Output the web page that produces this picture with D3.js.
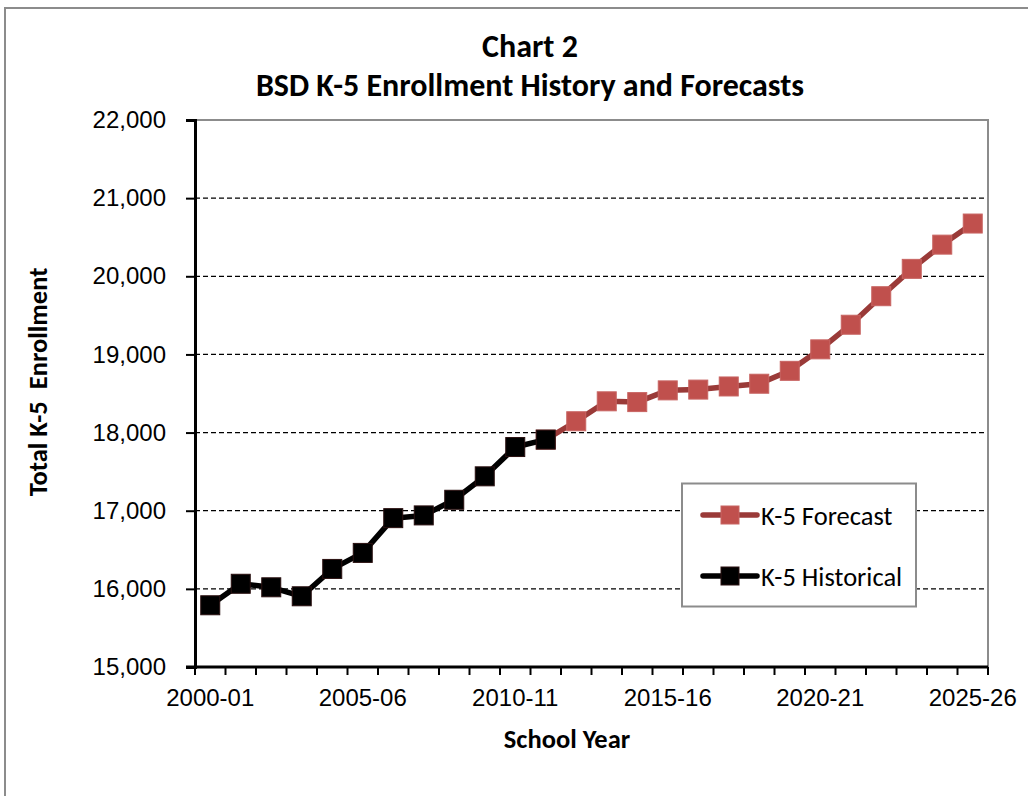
<!DOCTYPE html>
<html>
<head>
<meta charset="utf-8">
<script src="https://cdn.jsdelivr.net/npm/d3@7"></script>
<style>
	body { margin: 0; background: #fff; }
	svg { display: block; }
	.tick-label { font-family: "Liberation Sans", Arial, sans-serif; font-size: 24px; fill: #000; }
	.cal { font-family: Carlito, Lato, "Open Sans", sans-serif; font-weight: bold; fill: #000; }
	.legend-text { font-family: Carlito, Lato, "Open Sans", sans-serif; font-size: 26.5px; fill: #000; }
</style>
</head>
<body>
<div id="chart"></div>
<script>
// school years on the category axis
var years = ["2000-01", "2001-02", "2002-03", "2003-04", "2004-05", "2005-06", "2006-07",
	"2007-08", "2008-09", "2009-10", "2010-11", "2011-12", "2012-13", "2013-14",
	"2014-15", "2015-16", "2016-17", "2017-18", "2018-19", "2019-20", "2020-21",
	"2021-22", "2022-23", "2023-24", "2024-25", "2025-26"];

// k-5 historical enrollment, 2000-01 .. 2011-12
var historical = [15790, 16065, 16020, 15905, 16255, 16460, 16905, 16940, 17140, 17440, 17815, 17910];

// k-5 forecast, starts at 2011-12 so the line joins the history
var forecastYears = ["2011-12", "2012-13", "2013-14", "2014-15", "2015-16", "2016-17", "2017-18",
	"2018-19", "2019-20", "2020-21", "2021-22", "2022-23", "2023-24", "2024-25", "2025-26"];
var forecast = [17910, 18145, 18400, 18390, 18540, 18550, 18590, 18625, 18790, 19065, 19380, 19745, 20095, 20405, 20675];

var yTicks = [15000, 16000, 17000, 18000, 19000, 20000, 21000, 22000];
var xLabels = ["2000-01", "2005-06", "2010-11", "2015-16", "2020-21", "2025-26"];

var chart = {};
chart.width = 1028;
chart.height = 796;
chart.plot = {left: 195, right: 988, top: 120, bottom: 667};

chart.svg = d3.select("#chart").append("svg")
	.attr("width", chart.width)
	.attr("height", chart.height);

// outer chart border (runs off the right and bottom edge)
chart.svg.append("rect")
	.attr("x", 5)
	.attr("y", 8)
	.attr("width", 1040)
	.attr("height", 820)
	.attr("fill", "#fff")
	.attr("stroke", "#8c8c8c")
	.attr("stroke-width", 2);

// scales
var x = d3.scaleBand().domain(years).range([chart.plot.left, chart.plot.right]);
var y = d3.scaleLinear().domain([15000, 22000]).range([chart.plot.bottom, chart.plot.top]);
function cx(d) { return x(d) + x.bandwidth() / 2; }

// dashed gridlines
chart.svg.append("g")
	.attr("class", "grid")
	.selectAll("line")
	.data(yTicks.slice(1, -1))
	.enter().append("line")
	.attr("x1", chart.plot.left)
	.attr("x2", chart.plot.right)
	.attr("y1", function(d) { return y(d); })
	.attr("y2", function(d) { return y(d); })
	.attr("stroke", "#000")
	.attr("stroke-width", 1.2)
	.attr("stroke-dasharray", "5,3");

// plot area border, top and right
chart.svg.append("path")
	.attr("d", "M" + chart.plot.left + "," + y(22000) + "H" + chart.plot.right + "V" + chart.plot.bottom)
	.attr("fill", "none")
	.attr("stroke", "#8c8c8c")
	.attr("stroke-width", 2);

// y axis
var yAxis = chart.svg.append("g")
	.attr("transform", "translate(" + chart.plot.left + ",0)")
	.call(d3.axisLeft(y).tickValues(yTicks).tickSize(9).tickPadding(20).tickFormat(d3.format(",")));
yAxis.select(".domain").attr("stroke-width", 3);
yAxis.selectAll(".tick line").attr("stroke-width", 2);
yAxis.selectAll("text").attr("class", "tick-label").attr("font-size", null).attr("font-family", null);

// x axis: tick marks between categories, labels on every fifth year
var xAxis = chart.svg.append("g")
	.attr("transform", "translate(0," + chart.plot.bottom + ")");
xAxis.append("line")
	.attr("x1", chart.plot.left - 9)
	.attr("x2", chart.plot.right)
	.attr("stroke", "#000")
	.attr("stroke-width", 3);
xAxis.selectAll("line.xtick")
	.data(years.concat(["end"]))
	.enter().append("line")
	.attr("class", "xtick")
	.attr("x1", function(d) { return d == "end" ? chart.plot.right : x(d); })
	.attr("x2", function(d) { return d == "end" ? chart.plot.right : x(d); })
	.attr("y1", 0)
	.attr("y2", 8)
	.attr("stroke", "#000")
	.attr("stroke-width", 2);
xAxis.selectAll("text")
	.data(xLabels)
	.enter().append("text")
	.attr("class", "tick-label")
	.attr("x", function(d) { return cx(d); })
	.attr("y", 39)
	.attr("text-anchor", "middle")
	.text(function(d) { return d; });

// lines
var line = d3.line()
	.x(function(d) { return cx(d.year); })
	.y(function(d) { return y(d.value); });

var forecastData = forecastYears.map(function(d, i) { return {year: d, value: forecast[i]}; });
var historicalData = years.slice(0, historical.length).map(function(d, i) { return {year: d, value: historical[i]}; });

var series = [
	{name: "K-5 Forecast", data: forecastData, line: "#9a3a38", fill: "#c0504d", stroke: "#c86462"},
	{name: "K-5 Historical", data: historicalData, line: "#000", fill: "#000", stroke: "#2a1010"}
];

series.forEach(function(s) {
	chart.svg.append("path")
		.datum(s.data)
		.attr("fill", "none")
		.attr("stroke", s.line)
		.attr("stroke-width", 5.5)
		.attr("stroke-linejoin", "round")
		.attr("d", line);

	chart.svg.append("g")
		.selectAll("rect")
		.data(s.data)
		.enter().append("rect")
		.attr("x", function(d) { return cx(d.year) - 9.5; })
		.attr("y", function(d) { return y(d.value) - 9.5; })
		.attr("width", 19)
		.attr("height", 19)
		.attr("fill", s.fill)
		.attr("stroke", s.stroke)
		.attr("stroke-width", 1);
});

// legend
var legend = chart.svg.append("g").attr("class", "legend");
legend.append("rect")
	.attr("x", 682)
	.attr("y", 483.5)
	.attr("width", 234)
	.attr("height", 123)
	.attr("fill", "#fff")
	.attr("stroke", "#8c8c8c")
	.attr("stroke-width", 2);

var legendItem = legend.selectAll("g.item")
	.data(series)
	.enter().append("g")
	.attr("class", "item")
	.attr("transform", function(d, i) { return "translate(0," + (515 + i * 61) + ")"; });
legendItem.append("line")
	.attr("x1", 703)
	.attr("x2", 757)
	.attr("stroke", function(d) { return d.line; })
	.attr("stroke-width", 5.5)
	.attr("stroke-linecap", "round");
legendItem.append("rect")
	.attr("x", 721)
	.attr("y", -9)
	.attr("width", 18)
	.attr("height", 18)
	.attr("fill", function(d) { return d.fill; })
	.attr("stroke", function(d) { return d.stroke; });
legendItem.append("text")
	.attr("class", "legend-text")
	.attr("x", 761)
	.attr("y", 9.5)
	.text(function(d) { return d.name; });

// titles
chart.svg.append("text")
	.attr("class", "cal")
	.attr("x", 530)
	.attr("y", 57)
	.attr("text-anchor", "middle")
	.attr("font-size", 32)
	.text("Chart 2");
chart.svg.append("text")
	.attr("class", "cal")
	.attr("x", 530)
	.attr("y", 96)
	.attr("text-anchor", "middle")
	.attr("font-size", 32)
	.text("BSD K-5 Enrollment History and Forecasts");

chart.svg.append("text")
	.attr("class", "cal")
	.attr("x", 567)
	.attr("y", 748)
	.attr("text-anchor", "middle")
	.attr("font-size", 26.5)
	.text("School Year");

chart.svg.append("text")
	.attr("class", "cal")
	.attr("transform", "translate(47,382) rotate(-90)")
	.attr("text-anchor", "middle")
	.attr("font-size", 26.5)
	.attr("xml:space", "preserve")
	.style("white-space", "pre")
	.text("Total K-5  Enrollment");
</script>
</body>
</html>
